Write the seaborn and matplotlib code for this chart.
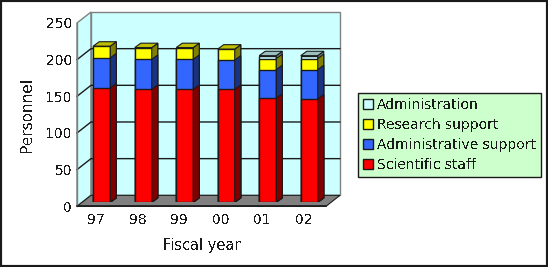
import matplotlib
matplotlib.use('Agg')
import matplotlib.pyplot as plt
import matplotlib.transforms as mtrans
import numpy as np
import seaborn as sns
from matplotlib.patches import Patch, Polygon
from matplotlib.colors import to_rgb

years = ['97', '98', '99', '00', '01', '02']
scientific = [156, 154, 154, 154, 142, 141]
admin_support = [41, 41, 41, 40, 39, 40]
research = [16, 16, 16, 15, 15, 15]
administration = [0, 0, 0, 0, 4, 4]

y_ticks = [0, 50, 100, 150, 200, 250]
labels = ['Scientific staff', 'Administrative support', 'Research support', 'Administration']
colors = ['#FF0000', '#3366FF', '#FFFF00', '#CCFFFF']

sns.set_theme(style='white')
plt.rcParams['font.family'] = ['DejaVu Sans']
plt.rcParams['text.antialiased'] = False
plt.rcParams['text.color'] = 'k'
plt.rcParams['axes.labelcolor'] = 'k'
plt.rcParams['xtick.color'] = 'k'
plt.rcParams['ytick.color'] = 'k'

W, H = 548, 267
fig = plt.figure(figsize=(W / 100, H / 100), dpi=100, facecolor='white')
# borda preta do quadro
fig.add_artist(plt.Rectangle((0, 0), 1, 1, transform=fig.transFigure, fill=False, edgecolor='k', linewidth=3))

# plano frontal do grafico
ax = fig.add_axes([77 / W, (H - 206.3) / H, 249 / W, 183.3 / H])
ax.patch.set_visible(False)
ax.set_xlim(-0.5, 5.5)
ax.set_ylim(0, 250)

# profundidade das paredes, em unidades de dados
wall_dx = 14 / 41.5
wall_dy = 15
gray = '#808080'
wall = '#CCFFFF'
x0, x1 = -0.5, 5.5
ax.add_patch(Polygon([(x0, 0), (x0 + wall_dx, wall_dy), (x0 + wall_dx, 250 + wall_dy), (x0, 250)],
                     facecolor=wall, edgecolor=gray, lw=1, clip_on=False, zorder=1))
ax.add_patch(Polygon([(x0 + wall_dx, wall_dy), (x1 + wall_dx, wall_dy), (x1 + wall_dx, 250 + wall_dy), (x0 + wall_dx, 250 + wall_dy)],
                     facecolor=wall, edgecolor=gray, lw=1, clip_on=False, zorder=1))
ax.add_patch(Polygon([(x0, 0), (x1, 0), (x1 + wall_dx, wall_dy), (x0 + wall_dx, wall_dy)],
                     facecolor=gray, edgecolor='k', lw=0.8, clip_on=False, zorder=2))
for v in y_ticks[1:-1]:
    ax.plot([x0, x0 + wall_dx, x1 + wall_dx], [v, v + wall_dy, v + wall_dy], color='k', lw=1, clip_on=False, zorder=2)

for s in ['top', 'right']:
    ax.spines[s].set_visible(False)
ax.spines['left'].set_color(gray)
ax.spines['bottom'].set_color('k')
ax.spines['left'].set_linewidth(1)
ax.spines['bottom'].set_linewidth(1.2)
ax.spines['left'].set_zorder(3)
ax.spines['bottom'].set_zorder(3)

ax.set_yticks(y_ticks)
ax.set_xticks(range(len(years)), years)
ax.set_xticks(np.arange(0.5, 5.5), minor=True)
ax.tick_params(axis='y', length=0, pad=3.5, labelsize=10)
ax.tick_params(axis='x', which='major', length=0, pad=5, labelsize=10)
ax.tick_params(axis='x', which='minor', length=3.5, width=0.8, direction='in', color='k')
ax.set_xlabel('Fiscal year', fontsize=10.5, labelpad=8)
ax.set_ylabel('Personnel', fontsize=11, labelpad=8)

# rotulos do eixo x um pouco para a esquerda
shift = mtrans.ScaledTranslation(-1.5 / 100, 0, fig.dpi_scale_trans)
for lab in ax.get_xticklabels():
    lab.set_transform(lab.get_transform() + shift)

# barras um pouco para dentro do chao
bars = fig.add_axes([81 / W, (H - 202.3) / H, 249 / W, 183.3 / H])
bars.patch.set_visible(False)

bar_dx = 6 / 41.5
bar_dy = 6
series = [scientific, admin_support, research, administration]
stack = np.cumsum(series, axis=0)

# desenha do mais alto para o mais baixo
for i in [3, 2, 1, 0]:
    sns.barplot(x=years, y=stack[i], color=colors[i], saturation=1, width=0.41,
                edgecolor='k', linewidth=1, ax=bars, zorder=4 - i)
    rgb = np.array(to_rgb(colors[i]))
    for j, p in enumerate(bars.containers[-1]):
        px, pw, top = p.get_x(), p.get_width(), p.get_height()
        p.set_zorder(4 - i)
        bars.add_patch(Polygon([(px + pw, 0), (px + pw + bar_dx, bar_dy), (px + pw + bar_dx, top + bar_dy), (px + pw, top)],
                               facecolor=rgb * 0.5, edgecolor='k', lw=0.8, zorder=4 - i))
        # so a camada de cima mostra o topo
        if top == stack[3][j] and series[i][j] > 0:
            bars.add_patch(Polygon([(px, top), (px + pw, top), (px + pw + bar_dx, top + bar_dy), (px + bar_dx, top + bar_dy)],
                                   facecolor=rgb * 0.75, edgecolor='k', lw=0.8, zorder=4 - i))
bars.set_xlim(-0.5, 5.5)
bars.set_ylim(0, 250)
bars.axis('off')

handles = [Patch(facecolor=colors[i], edgecolor='k', label=labels[i]) for i in [3, 2, 1, 0]]
fig.legend(handles=handles, loc='upper left', bbox_to_anchor=(358 / W, 1 - 93 / H), borderaxespad=0,
           fancybox=False, framealpha=1, facecolor='#CCFFCC', edgecolor='k', fontsize=10,
           handlelength=0.72, handleheight=0.72, handletextpad=0.3, labelspacing=0.42, borderpad=0.37)

fig.savefig('out.png', dpi=100)
